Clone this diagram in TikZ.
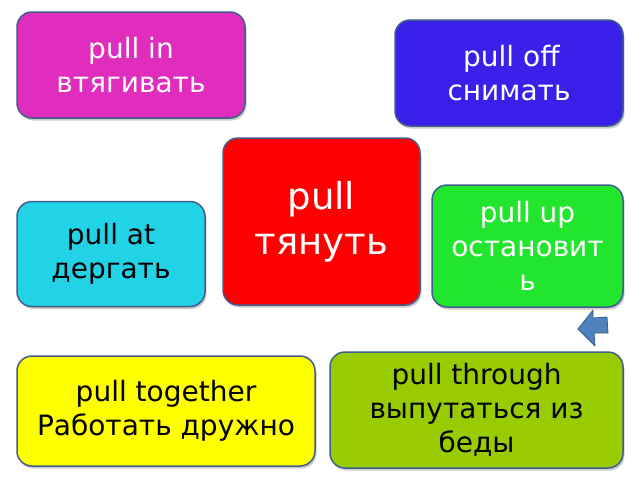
\documentclass[tikz,border=0pt]{standalone}
\usepackage{fontspec}
\setmainfont{DejaVu Sans}
\usetikzlibrary{shadows}
\definecolor{cMag}{RGB}{224,45,190}
\definecolor{cBlue}{RGB}{58,32,232}
\definecolor{cRed}{RGB}{255,0,0}
\definecolor{cGreen}{RGB}{34,229,46}
\definecolor{cCyan}{RGB}{34,211,232}
\definecolor{cOlive}{RGB}{153,204,0}
\definecolor{cYellow}{RGB}{255,255,0}
\definecolor{cBorder}{RGB}{63,94,138}
\definecolor{cArrow}{RGB}{79,129,189}
\definecolor{cArrowB}{RGB}{56,93,138}
\tikzset{
  card/.style={draw=cBorder, line width=1.5pt, rounded corners=15pt,
    align=center, inner sep=0pt,
    drop shadow={shadow xshift=1.5pt, shadow yshift=-2.5pt, opacity=0.2, fill=black},
    font=\fontsize{28}{34}\selectfont},
  bigtext/.style={font=\fontsize{37}{45}\selectfont},
}
\begin{document}
\begin{tikzpicture}[x=1pt,y=-1pt]
\useasboundingbox[fill=white] (0,0) rectangle (640,480);
\node[card, fill=cMag, text=white, minimum width=228pt, minimum height=106pt] (in) at (131,65) {pull in\\втягивать};
\node[card, fill=cBlue, text=white, minimum width=228pt, minimum height=106pt] (off) at (509,73) {\,pull off\\снимать};
\node[card, bigtext, fill=cRed, text=white, minimum width=197pt, minimum height=167pt] (pull) at (321.5,221.5) {pull\\тянуть};
\node[card, fill=cGreen, text=white, minimum width=191pt, minimum height=122pt] (up) at (527.5,246) {pull up\\остановит\\ь};
\node[card, fill=cCyan, text=black, minimum width=188pt, minimum height=105pt] (at) at (111,254) {pull at\\дергать};
\node[card, fill=cOlive, text=black, minimum width=293pt, minimum height=116pt] (through) at (476.5,410) {pull through\\выпутаться из\\беды};
\node[card, fill=cYellow, text=black, minimum width=298pt, minimum height=110pt] (together) at (166,411) {pull together\\Работать дружно};
\filldraw[fill=cArrow, draw=cArrowB, line width=0.8pt, line join=round]
  (578,329) -- (593,310) -- (593,318) -- (607,317) -- (608,333) -- (594,333) -- (595,346) -- cycle;
\end{tikzpicture}
\end{document}
